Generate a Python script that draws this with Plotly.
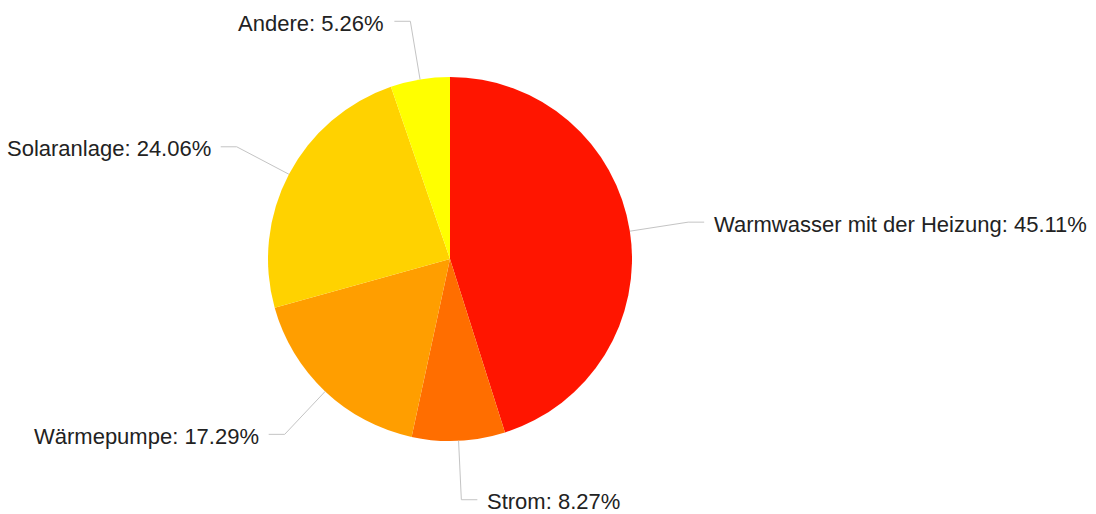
import math
import plotly.graph_objects as go

labels = ["Warmwasser mit der Heizung", "Strom", "Wärmepumpe", "Solaranlage", "Andere"]
values = [45.11, 8.27, 17.29, 24.06, 5.26]
colors = ["#FF1500", "#FF6E00", "#FF9E00", "#FFD200", "#FFFF00"]

W, H = 1096, 514
CX, CY, R = 450, 259, 182
R_ELBOW = 241
SEG = 16
GAP = 8


def px(x):
    return x / W


def py(y):
    return 1 - y / H


fig = go.Figure(go.Pie(
    labels=labels, values=values, sort=False, direction="clockwise", rotation=0,
    marker=dict(colors=colors, line=dict(width=0)),
    textinfo="none", hoverinfo="label+percent", showlegend=False,
    domain=dict(x=[px(CX - R), px(CX + R)], y=[py(CY + R), py(CY - R)]),
))

shapes = []
annotations = []
total = sum(values)
cum = 0.0
for lab, v in zip(labels, values):
    mid = (cum + v / 2) / total * 2 * math.pi
    cum += v
    s, c = math.sin(mid), math.cos(mid)
    x0, y0 = CX + R * s, CY - R * c
    x1, y1 = CX + R_ELBOW * s, CY - R_ELBOW * c
    d = 1 if s >= 0 else -1
    x2 = x1 + d * SEG
    shapes.append(dict(
        type="path", xref="paper", yref="paper",
        path=f"M {px(x0)} {py(y0)} L {px(x1)} {py(y1)} L {px(x2)} {py(y1)}",
        line=dict(color="#c4c4c4", width=1),
    ))
    annotations.append(dict(
        x=px(x2 + d * GAP), y=py(y1), xref="paper", yref="paper",
        text=f"{lab}: {v:.2f}%", showarrow=False, yshift=-2,
        xanchor="left" if d > 0 else "right", yanchor="middle",
        font=dict(family="Liberation Sans, Arial, sans-serif", size=22, color="#222222"),
    ))

fig.update_layout(
    width=W, height=H, margin=dict(l=0, r=0, t=0, b=0),
    paper_bgcolor="white", plot_bgcolor="white",
    shapes=shapes, annotations=annotations,
)
fig.write_html("out.html")
